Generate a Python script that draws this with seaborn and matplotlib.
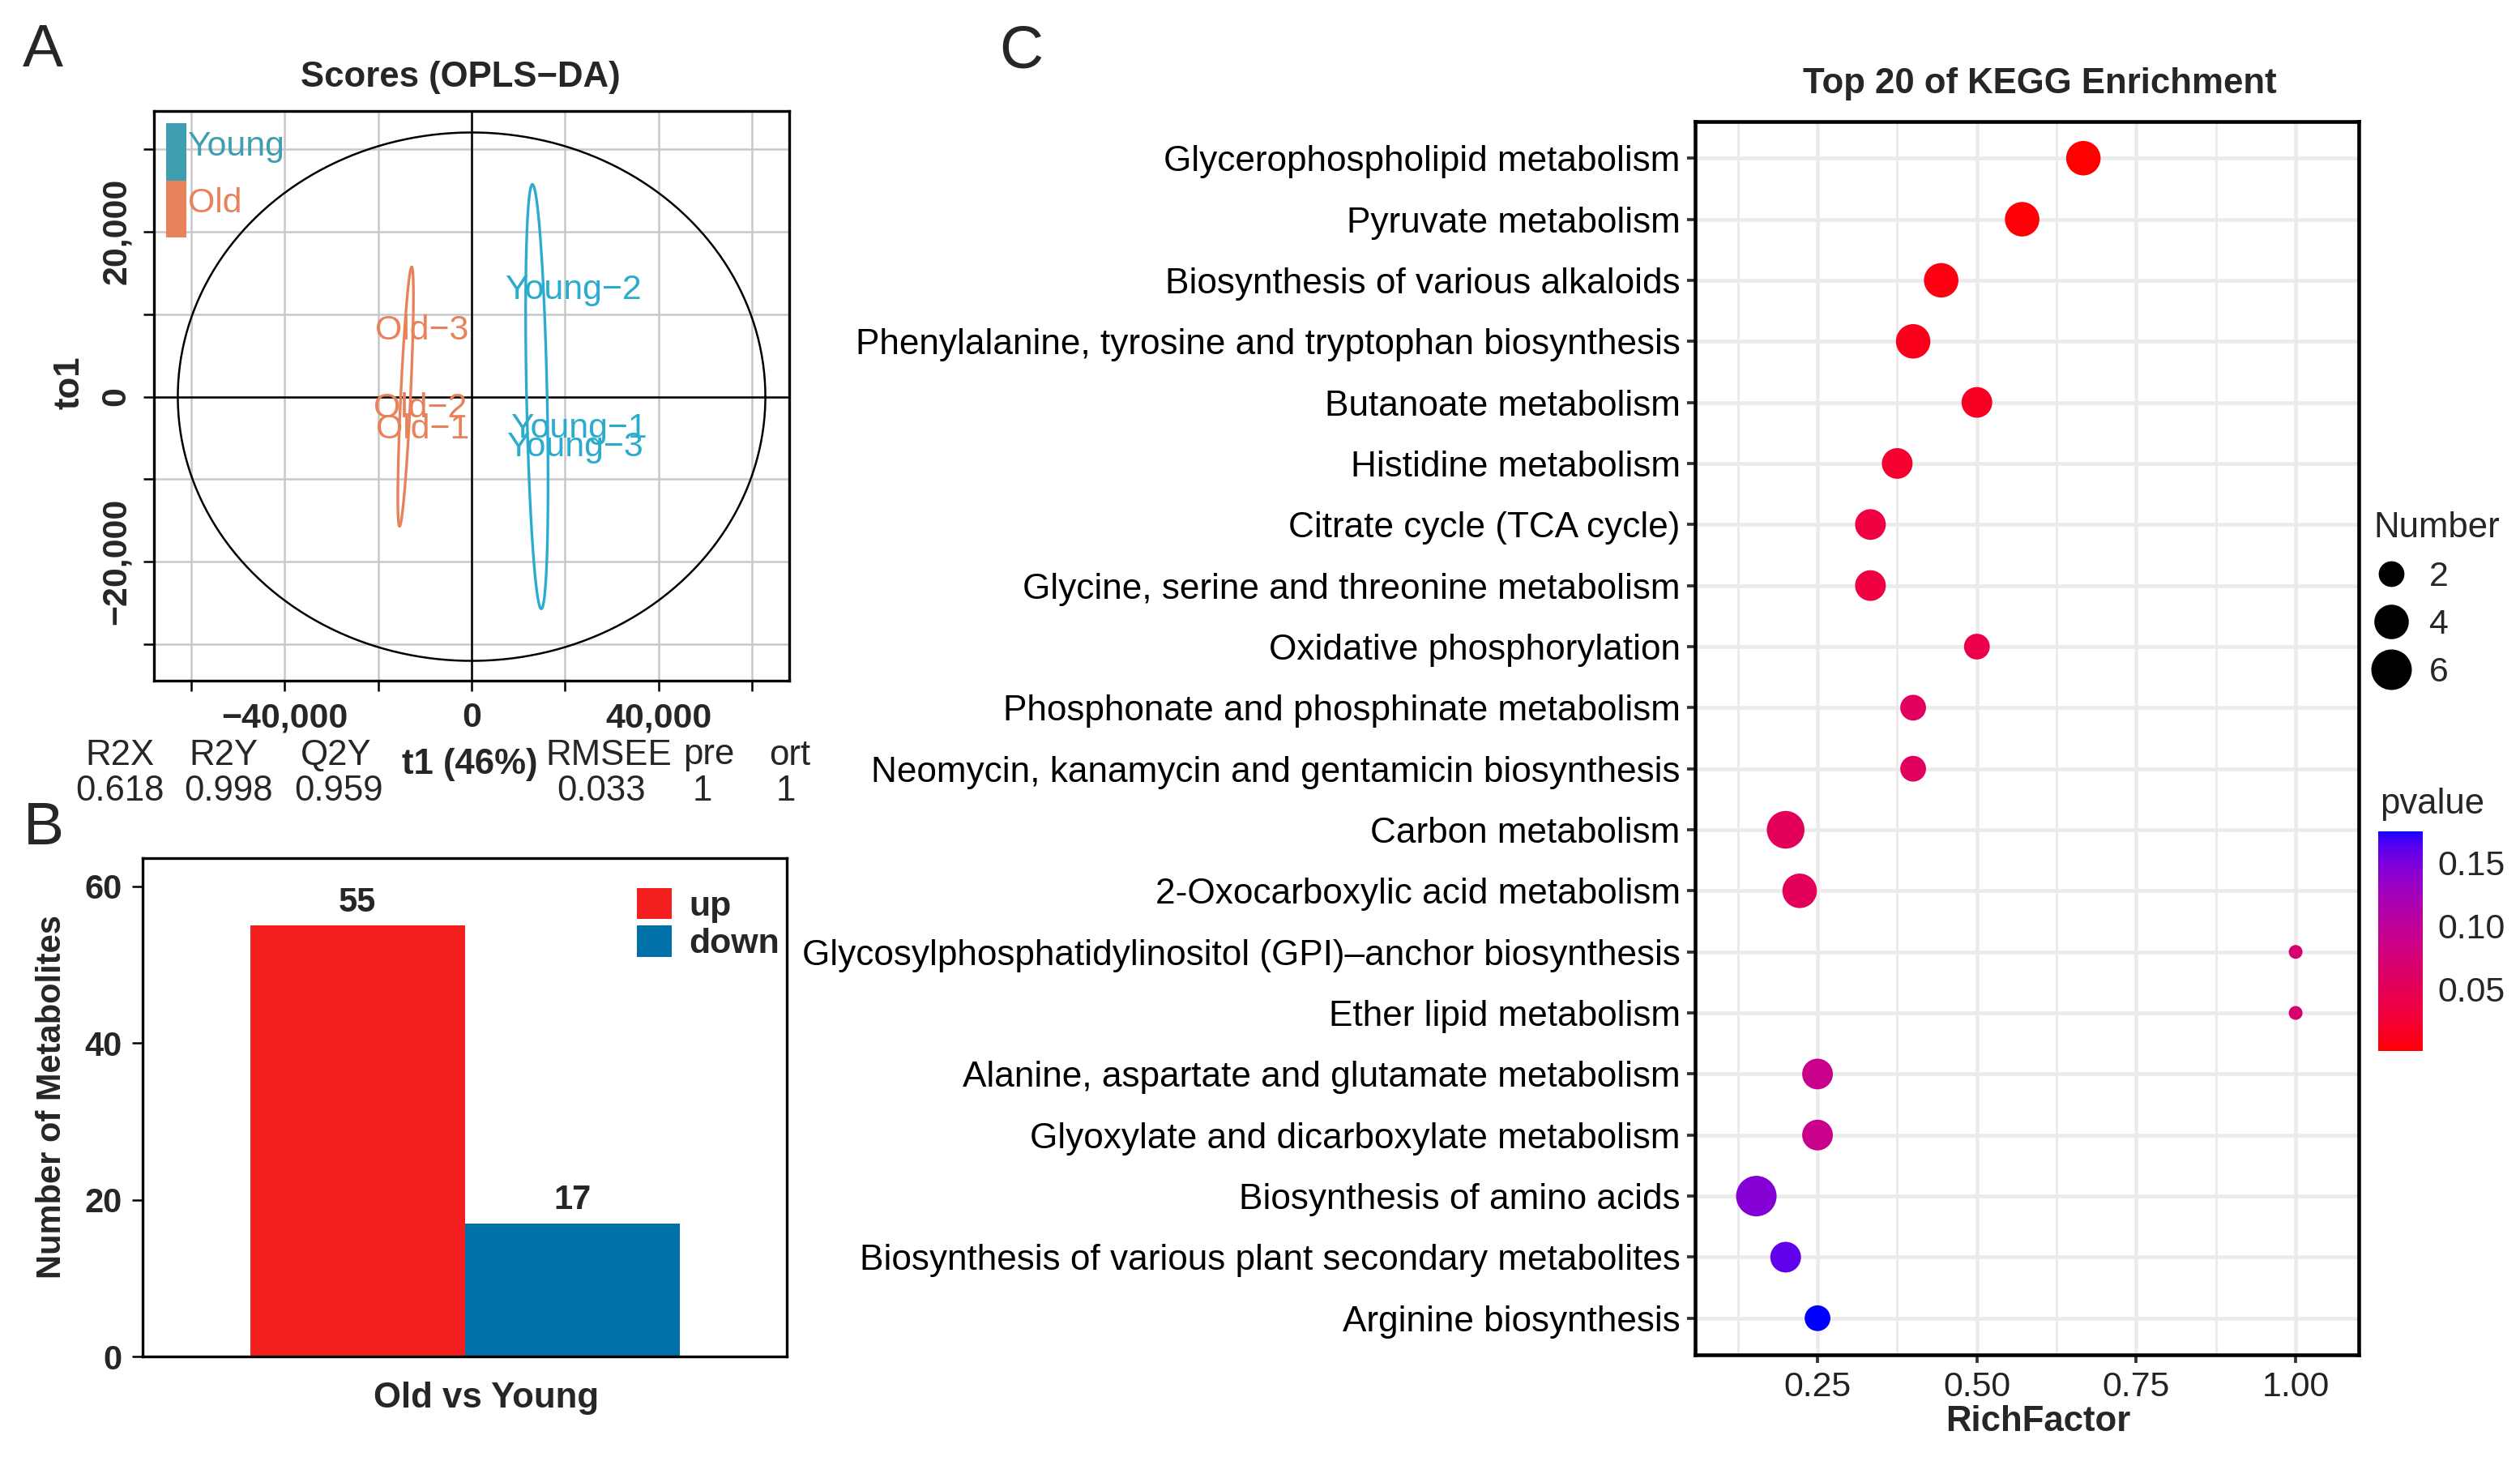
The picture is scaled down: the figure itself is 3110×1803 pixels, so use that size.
import numpy as np
import pandas as pd
import seaborn as sns
import matplotlib
matplotlib.use("Agg")
import matplotlib.pyplot as plt
from matplotlib.colors import ListedColormap, Normalize, to_rgb
from matplotlib.cm import ScalarMappable
from matplotlib.lines import Line2D
from matplotlib.patches import Rectangle

# ---------------- data ----------------
# A: OPLS-DA scores
sample_names = ["Old−1", "Old−2", "Old−3", "Young−1", "Young−2", "Young−3"]
sample_groups = ["Old", "Old", "Old", "Young", "Young", "Young"]
t1_scores = [-10500, -11000, -10700, 23000, 21700, 22000]
to1_scores = [-4000, -1400, 8000, -3900, 12900, -6100]
hotelling_axes = [62800, 32000]
# group ellipses: centre x, centre y, major-axis vector (dx, dy), minor half width
old_ellipse = [-14100, 0, 1300, 15700, 1050]
young_ellipse = [13950, 0, -950, 25700, 2200]
stat_names = ["R2X", "R2Y", "Q2Y", "RMSEE", "pre", "ort"]
stat_values = ["0.618", "0.998", "0.959", "0.033", "1", "1"]

# B: differential metabolites
comparison = ["Old vs Young", "Old vs Young"]
direction = ["up", "down"]
metab_counts = [55, 17]

# C: KEGG enrichment
pathways = [
    "Glycerophospholipid metabolism",
    "Pyruvate metabolism",
    "Biosynthesis of various alkaloids",
    "Phenylalanine, tyrosine and tryptophan biosynthesis",
    "Butanoate metabolism",
    "Histidine metabolism",
    "Citrate cycle (TCA cycle)",
    "Glycine, serine and threonine metabolism",
    "Oxidative phosphorylation",
    "Phosphonate and phosphinate metabolism",
    "Neomycin, kanamycin and gentamicin biosynthesis",
    "Carbon metabolism",
    "2-Oxocarboxylic acid metabolism",
    "Glycosylphosphatidylinositol (GPI)–anchor biosynthesis",
    "Ether lipid metabolism",
    "Alanine, aspartate and glutamate metabolism",
    "Glyoxylate and dicarboxylate metabolism",
    "Biosynthesis of amino acids",
    "Biosynthesis of various plant secondary metabolites",
    "Arginine biosynthesis",
]
rich_factor = [0.667, 0.571, 0.444, 0.400, 0.500, 0.375, 0.333, 0.333, 0.500, 0.400,
               0.400, 0.200, 0.222, 1.000, 1.000, 0.250, 0.250, 0.154, 0.200, 0.250]
hit_number = [4, 4, 4, 4, 3, 3, 3, 3, 2, 2, 2, 5, 4, 1, 1, 3, 3, 6, 3, 2]
pvalues = [0.001, 0.003, 0.006, 0.010, 0.015, 0.022, 0.033, 0.033, 0.040, 0.056,
           0.056, 0.052, 0.054, 0.070, 0.070, 0.090, 0.090, 0.145, 0.160, 0.175]

# ---------------- style ----------------
sns.set_theme(style="white")
plt.rcParams['font.family'] = ['Liberation Sans', 'DejaVu Sans']

W, H = 3111, 1803
DPI = 300
PX = 72 / DPI  # points per pixel

fig = plt.figure(figsize=(W / DPI, H / DPI), dpi=DPI)


def fpos(x, y):
    return x / W, 1 - y / H


def hex_to_lab(h):
    rgb = np.array(to_rgb(h))
    lin = np.where(rgb <= 0.04045, rgb / 12.92, ((rgb + 0.055) / 1.055) ** 2.4)
    m = np.array([[0.4124, 0.3576, 0.1805], [0.2126, 0.7152, 0.0722], [0.0193, 0.1192, 0.9505]])
    xyz = m @ lin / np.array([0.95047, 1.0, 1.08883])
    f = np.where(xyz > 0.008856, np.cbrt(xyz), 7.787 * xyz + 16 / 116)
    return np.array([116 * f[1] - 16, 500 * (f[0] - f[1]), 200 * (f[1] - f[2])])


def lab_to_rgb(lab):
    fy = (lab[0] + 16) / 116
    fx = fy + lab[1] / 500
    fz = fy - lab[2] / 200
    f = np.array([fx, fy, fz])
    xyz = np.where(f ** 3 > 0.008856, f ** 3, (f - 16 / 116) / 7.787) * np.array([0.95047, 1.0, 1.08883])
    m = np.array([[3.2406, -1.5372, -0.4986], [-0.9689, 1.8758, 0.0415], [0.0557, -0.2040, 1.0570]])
    lin = np.clip(m @ xyz, 0, 1)
    rgb = np.where(lin <= 0.0031308, 12.92 * lin, 1.055 * lin ** (1 / 2.4) - 0.055)
    return np.clip(rgb, 0, 1)


# ggplot-like red -> blue gradient interpolated in Lab space
lab_lo, lab_hi = hex_to_lab("#FF0000"), hex_to_lab("#0000FF")
pcmap = ListedColormap([lab_to_rgb(lab_lo * (1 - t) + lab_hi * t) for t in np.linspace(0, 1, 256)])

OLD_COL = "#E8825A"
YOUNG_COL = "#2BACCE"

# ---------------- panel A ----------------
axA = fig.add_axes([190 / W, 1 - 840 / H, 784 / W, 703 / H])
axA.set_xlim(-67900, 67900)
axA.set_ylim(-34400, 34600)
xt = list(range(-60000, 60001, 20000))
yt = list(range(-30000, 30001, 10000))
axA.set_xticks(xt)
axA.set_xticklabels([f"{v:,}".replace("-", "−") if v in (-40000, 0, 40000) else "" for v in xt])
axA.set_yticks(yt)
axA.set_yticklabels([f"{v:,}".replace("-", "−") if v in (-20000, 0, 20000) else "" for v in yt])
axA.grid(True, color="#C8C8C8", lw=0.6)
axA.set_axisbelow(True)
axA.tick_params(axis="both", length=3.1, width=0.6, color="black", labelsize=10.3, pad=3.2,
                bottom=True, left=True)
for lbl in axA.get_xticklabels():
    lbl.set_fontweight("bold")
for lbl in axA.get_yticklabels():
    lbl.set_fontweight("bold")
    lbl.set_rotation(90)
    lbl.set_va("center")
for sp in axA.spines.values():
    sp.set_color("black")
    sp.set_linewidth(0.8)
axA.axhline(0, color="black", lw=0.6)
axA.axvline(0, color="black", lw=0.6)

tt = np.linspace(0, 2 * np.pi, 400)
axA.plot(hotelling_axes[0] * np.cos(tt), hotelling_axes[1] * np.sin(tt), color="black", lw=0.6)
for ell, col in [(old_ellipse, OLD_COL), (young_ellipse, YOUNG_COL)]:
    cx, cy, mx, my, nx = ell
    axA.plot(cx + mx * np.cos(tt) + nx * np.sin(tt), cy + my * np.cos(tt), color=col, lw=0.8)

for name, grp, x, y in zip(sample_names, sample_groups, t1_scores, to1_scores):
    axA.text(x, y, name, color=OLD_COL if grp == "Old" else YOUNG_COL,
             ha="center", va="center", fontsize=10.3)

# group colour key
axA.add_patch(Rectangle((0.019, 0.878), 0.032, 0.101, transform=axA.transAxes,
                        color="#3F9FB0", lw=0))
axA.add_patch(Rectangle((0.019, 0.778), 0.032, 0.100, transform=axA.transAxes,
                        color=OLD_COL, lw=0))
axA.text(0.053, 0.937, "Young", transform=axA.transAxes, color="#3F9FB0",
         ha="left", va="center", fontsize=10.3)
axA.text(0.053, 0.838, "Old", transform=axA.transAxes, color=OLD_COL,
         ha="left", va="center", fontsize=10.3)

fig.text(*fpos(568, 96), "Scores (OPLS−DA)", ha="center", va="center",
         fontsize=10.5, fontweight="bold")
fig.text(*fpos(86, 472), "to1", rotation=90, ha="center", va="center",
         fontsize=10.5, fontweight="bold")
fig.text(*fpos(580, 943), "t1 (46%)", ha="center", va="center",
         fontsize=10.5, fontweight="bold")
name_x = [148, 276, 415, 751, 875, 975]
val_x = [148, 282, 418, 742, 867, 970]
for nm, vl, xn, xv in zip(stat_names, stat_values, name_x, val_x):
    fig.text(*fpos(xn, 932), nm, ha="center", va="center", fontsize=10.5)
    fig.text(*fpos(xv, 977), vl, ha="center", va="center", fontsize=10.5)

# ---------------- panel B ----------------
axB = fig.add_axes([176 / W, 1 - 1674 / H, 795 / W, 615 / H])
df_b = pd.DataFrame({"comparison": comparison, "direction": direction, "count": metab_counts})
sns.barplot(data=df_b, x="comparison", y="count", hue="direction",
            palette=["#F42020", "#0070A8"], width=0.9, saturation=1, linewidth=0, ax=axB)
axB.set_xlim(-0.675, 0.675)
axB.set_ylim(0, 63.6)
axB.set_yticks([0, 20, 40, 60])
axB.set_xticks([])
axB.set_xlabel("")
axB.set_ylabel("")
axB.tick_params(axis="y", length=3.1, width=0.6, color="black", labelsize=10, pad=3, left=True)
for lbl in axB.get_yticklabels():
    lbl.set_fontweight("bold")
for sp in axB.spines.values():
    sp.set_color("black")
    sp.set_linewidth(0.8)
for cont in axB.containers:
    axB.bar_label(cont, fontsize=10, fontweight="bold", padding=2.0)
sns.move_legend(axB, "upper left", bbox_to_anchor=(0.767, 0.94), frameon=False, title=None,
                prop={"weight": "bold", "size": 10.3}, handlelength=1.0, handleheight=1.0,
                labelspacing=0.08, handletextpad=0.5, borderpad=0, borderaxespad=0)
fig.text(*fpos(64, 1353), "Number of Metabolites", rotation=90, ha="center", va="center",
         fontsize=10, fontweight="bold")
fig.text(*fpos(600, 1726), "Old vs Young", ha="center", va="center",
         fontsize=10.5, fontweight="bold")

# ---------------- panel C ----------------
axC = fig.add_axes([2092 / W, 1 - 1672 / H, 819 / W, 1522 / H])
df_c = pd.DataFrame({"pathway": pathways, "RichFactor": rich_factor,
                     "Number": hit_number, "pvalue": pvalues})
pnorm = Normalize(min(pvalues), max(pvalues))


def dot_diam_px(n):
    return 17 + 33 * np.sqrt((n - 1) / 5)


size_map = {n: (dot_diam_px(n) * PX) ** 2 for n in range(1, 7)}
sns.scatterplot(data=df_c, x="RichFactor", y="pathway", hue="pvalue", palette=pcmap,
                hue_norm=pnorm, size="Number", sizes=size_map, linewidth=0,
                legend=False, ax=axC, zorder=3)
axC.set_xlim(0.058, 1.099)
axC.set_ylim(len(pathways) - 0.4, -0.6)
axC.set_xticks([0.25, 0.50, 0.75, 1.00])
axC.set_xticklabels(["0.25", "0.50", "0.75", "1.00"])
axC.set_xticks([0.125, 0.375, 0.625, 0.875], minor=True)
axC.grid(True, which="major", color="#EBEBEB", lw=1.1)
axC.grid(True, which="minor", axis="x", color="#EBEBEB", lw=0.7)
axC.set_axisbelow(True)
axC.set_xlabel("")
axC.set_ylabel("")
axC.tick_params(axis="both", which="major", length=2.4, width=0.9, color="#333333",
                labelsize=10.6, labelcolor="black", pad=2, bottom=True, left=True)
axC.tick_params(axis="x", which="minor", length=0)
axC.tick_params(axis="x", labelcolor="#222222", labelsize=10.3, pad=2.5)
for sp in axC.spines.values():
    sp.set_color("black")
    sp.set_linewidth(1.1)

fig.text(*fpos(2517, 103), "Top 20 of KEGG Enrichment", ha="center", va="center",
         fontsize=10.5, fontweight="bold")
fig.text(*fpos(2515, 1755), "RichFactor", ha="center", va="center",
         fontsize=10.5, fontweight="bold")

# colour bar
cax = fig.add_axes([2935 / W, 1 - 1297 / H, 55 / W, 271 / H])
cb = fig.colorbar(ScalarMappable(norm=pnorm, cmap=pcmap), cax=cax, ticks=[0.05, 0.10, 0.15])
cb.outline.set_visible(False)
cb.ax.set_yticklabels(["0.05", "0.10", "0.15"])
cax.tick_params(direction="in", color="white", length=2.4, width=1.0, left=True, right=True,
                labelleft=False, labelright=True, labelsize=10.3, pad=4.3)
fig.text(*fpos(2937, 993), "pvalue", ha="left", va="center", fontsize=10.5)

# size legend
leg_handles = [Line2D([], [], marker="o", ls="", color="black", markeredgewidth=0,
                      markersize=dot_diam_px(n) * PX) for n in (2, 4, 6)]
fig.legend(leg_handles, ["2", "4", "6"], title="Number", loc="upper left",
           bbox_to_anchor=fpos(2908, 610), frameon=False, fontsize=10.3, title_fontsize=10.5,
           handlelength=1.0, handletextpad=0.6, labelspacing=0.45, borderpad=0,
           alignment="left")

# panel letters
fig.text(*fpos(53, 62), "A", ha="center", va="center", fontsize=18)
fig.text(*fpos(54, 1023), "B", ha="center", va="center", fontsize=18)
fig.text(*fpos(1260, 64), "C", ha="center", va="center", fontsize=18)

fig.savefig("out.png", dpi=DPI)
